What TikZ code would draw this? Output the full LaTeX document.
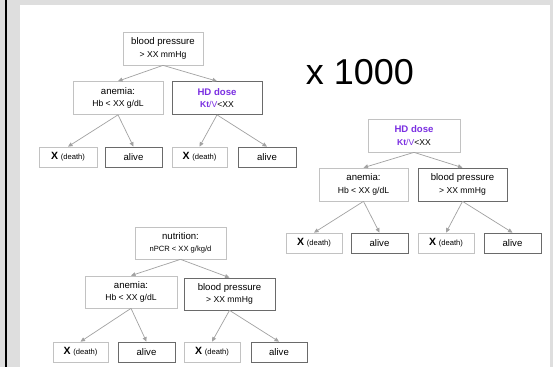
\documentclass[tikz,border=0pt]{standalone}
\usepackage{fontspec}
\setmainfont{Liberation Sans}
\usetikzlibrary{arrows.meta}
\definecolor{bgpanel}{HTML}{DEDEDE}
\definecolor{edgelight}{HTML}{C2C2C2}
\definecolor{edgedark}{HTML}{6A6A6A}
\definecolor{arrowgray}{HTML}{A2A2A2}
\definecolor{hdpurple}{RGB}{122,46,226}
\newcommand{\smtxt}[1]{{\fontsize{8.6}{10}\selectfont #1}}
\newcommand{\tinytxt}[1]{{\fontsize{7.6}{10}\selectfont #1}}
\newcommand{\deathlbl}{{\fontsize{10.5}{12}\selectfont\textbf{X}}~\tinytxt{(death)}}
\newcommand{\hdlbl}{\textcolor{hdpurple}{\textbf{HD dose}}\\\smtxt{\textcolor{hdpurple}{\textbf{Kt}/V}<XX}}
\newcommand{\bplbl}{blood pressure\\\smtxt{> XX mmHg}}
\newcommand{\anlbl}{anemia:\\\smtxt{Hb < XX g/dL}}
\begin{document}
\begin{tikzpicture}[x=1pt,y=-1pt,
  box/.style={draw=edgelight, line width=0.7pt, inner sep=0pt, align=center,
    minimum height=33pt, font=\fontsize{9.6}{12.5}\selectfont},
  darkbox/.style={box, draw=edgedark},
  leaf/.style={box, minimum height=20pt},
  darkleaf/.style={leaf, draw=edgedark},
  link/.style={draw=arrowgray, line width=0.7pt, -{Triangle[length=4.5pt,width=4pt]}}]
\useasboundingbox (0,0) rectangle (553,367);
\fill[bgpanel] (0,0) rectangle (553,367);
\fill[black] (4.8,0) rectangle (7,367);
\fill[white] (20,5) rectangle (550,367);

% tree 1
\node[box, minimum width=80pt] (r1) at (163,48.5) {\bplbl};
\node[box, minimum width=90pt] (a1) at (118,98) {\anlbl};
\node[darkbox, minimum width=90pt] (h1) at (217,98) {\hdlbl};
\node[leaf, minimum width=58pt] (x1a) at (68,157) {\deathlbl};
\node[darkleaf, minimum width=57pt] (v1a) at (133.5,157) {alive};
\node[leaf, minimum width=55pt] (x1b) at (199.5,157) {\deathlbl};
\node[darkleaf, minimum width=58pt] (v1b) at (267,157) {alive};
\draw[link] (r1.south) -- (a1.north);
\draw[link] (r1.south) -- (h1.north);
\draw[link] (a1.south) -- (x1a.north);
\draw[link] (a1.south) -- (v1a.north);
\draw[link] (h1.south) -- (x1b.north);
\draw[link] (h1.south) -- (v1b.north);

% x 1000
\node[inner sep=0pt, font=\fontsize{36}{40}\selectfont] (mult) at (360,72) {x 1000};

% tree 2
\node[box, minimum width=92pt] (r2) at (414,135.5) {\hdlbl};
\node[box, minimum width=89pt] (a2) at (363.5,184.5) {\anlbl};
\node[darkbox, minimum width=89pt] (b2) at (462.5,184.5) {\bplbl};
\node[leaf, minimum width=56pt] (x2a) at (314,243) {\deathlbl};
\node[darkleaf, minimum width=57pt] (v2a) at (379.5,243) {alive};
\node[leaf, minimum width=56pt] (x2b) at (446,243) {\deathlbl};
\node[darkleaf, minimum width=57pt] (v2b) at (512.5,243) {alive};
\draw[link] (r2.south) -- (a2.north);
\draw[link] (r2.south) -- (b2.north);
\draw[link] (a2.south) -- (x2a.north);
\draw[link] (a2.south) -- (v2a.north);
\draw[link] (b2.south) -- (x2b.north);
\draw[link] (b2.south) -- (v2b.north);

% tree 3
\node[box, minimum width=91pt, minimum height=32pt] (r3) at (180.5,243) {nutrition:\\\tinytxt{nPCR < XX g/kg/d}};
\node[box, minimum width=92pt, minimum height=32pt] (a3) at (131,292) {\anlbl};
\node[darkbox, minimum width=91pt, minimum height=32pt] (b3) at (229.5,294) {\bplbl};
\node[leaf, minimum width=55pt] (x3a) at (80.5,352) {\deathlbl};
\node[darkleaf, minimum width=57pt] (v3a) at (146.5,352) {alive};
\node[leaf, minimum width=56pt] (x3b) at (212,352) {\deathlbl};
\node[darkleaf, minimum width=56pt] (v3b) at (279,352) {alive};
\draw[link] (r3.south) -- (a3.north);
\draw[link] (r3.south) -- (b3.north);
\draw[link] (a3.south) -- (x3a.north);
\draw[link] (a3.south) -- (v3a.north);
\draw[link] (b3.south) -- (x3b.north);
\draw[link] (b3.south) -- (v3b.north);
\end{tikzpicture}
\end{document}
